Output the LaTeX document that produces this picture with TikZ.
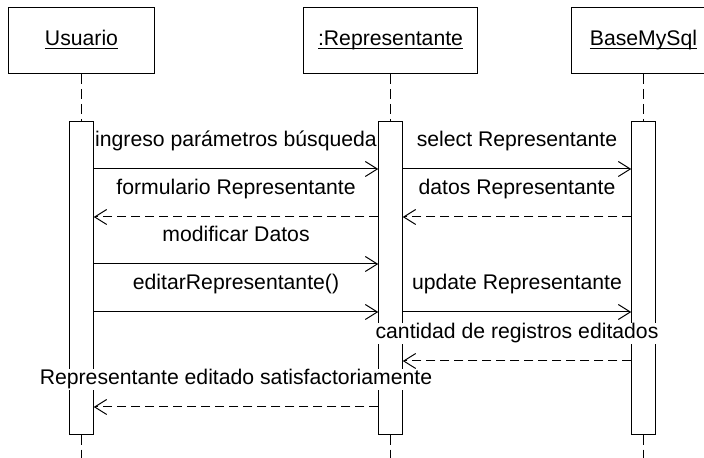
\documentclass[tikz,border=0pt]{standalone}
\usepackage{fontspec}
\setmainfont{Liberation Sans}
\usetikzlibrary{arrows.meta}

\newcommand{\objname}[1]{\underline{\vphantom{U}\smash{#1}}}

\begin{document}
\begin{tikzpicture}[x=0.5bp, y=-0.5bp, line width=0.5bp,
    font=\fontsize{10.6bp}{12bp}\selectfont,
    >={Straight Barb[length=6bp, width=7.5bp]},
    objbox/.style={draw, minimum height=33bp, inner sep=0pt},
    bar/.style={draw, fill=white, minimum width=11.75bp, minimum height=156bp, inner sep=0pt},
    lifeline/.style={dash pattern=on 5bp off 2.5bp},
    msg/.style={->},
    ret/.style={->, dash pattern=on 4.5bp off 2.5bp},
    lbl/.style={anchor=base, yshift=11bp, fill=white, inner sep=0.5bp}]
    \useasboundingbox (0,0) rectangle (704,458);
    \clip (0,0) rectangle (704,458);

    % objects
    \node[objbox, minimum width=72.5bp] (usuario) at (81.5,40.5) {\objname{Usuario}};
    \node[objbox, minimum width=86.75bp] (repre) at (390.5,40.5) {\objname{:Representante}};
    \node[objbox, minimum width=72.5bp] (base) at (643.5,40.5) {\objname{BaseMySql}};

    % activation bars
    \node[bar] (barU) at (81.5,278) {};
    \node[bar] (barR) at (390.5,278) {};
    \node[bar] (barB) at (643.5,278) {};

    \coordinate (bottom) at (0,458);
    \foreach \o/\b in {usuario/barU, repre/barR, base/barB} {
        \draw[lifeline] (\o.south) -- (\b.north);
        \draw[lifeline] (\b.south) -- (\b.south |- bottom);
    }

    % message rows
    \coordinate (m1) at (0,169);
    \coordinate (m2) at (0,217);
    \coordinate (m3) at (0,264);
    \coordinate (m4) at (0,312);
    \coordinate (m5) at (0,361);
    \coordinate (m6) at (0,407);

    \draw[msg] (barU.east |- m1) -- node[lbl] {ingreso parámetros búsqueda} (barR.west |- m1);
    \draw[msg] (barR.east |- m1) -- node[lbl] {select Representante} (barB.west |- m1);
    \draw[ret] (barB.west |- m2) -- node[lbl] {datos Representante} (barR.east |- m2);
    \draw[ret] (barR.west |- m2) -- node[lbl] {formulario Representante} (barU.east |- m2);
    \draw[msg] (barU.east |- m3) -- node[lbl] {modificar Datos} (barR.west |- m3);
    \draw[msg] (barU.east |- m4) -- node[lbl] {editarRepresentante()} (barR.west |- m4);
    \draw[msg] (barR.east |- m4) -- node[lbl] {update Representante} (barB.west |- m4);
    \draw[ret] (barB.west |- m5) -- node[lbl] {cantidad de registros editados} (barR.east |- m5);
    \draw[ret] (barR.west |- m6) -- node[lbl] {Representante editado satisfactoriamente} (barU.east |- m6);
\end{tikzpicture}
\end{document}
